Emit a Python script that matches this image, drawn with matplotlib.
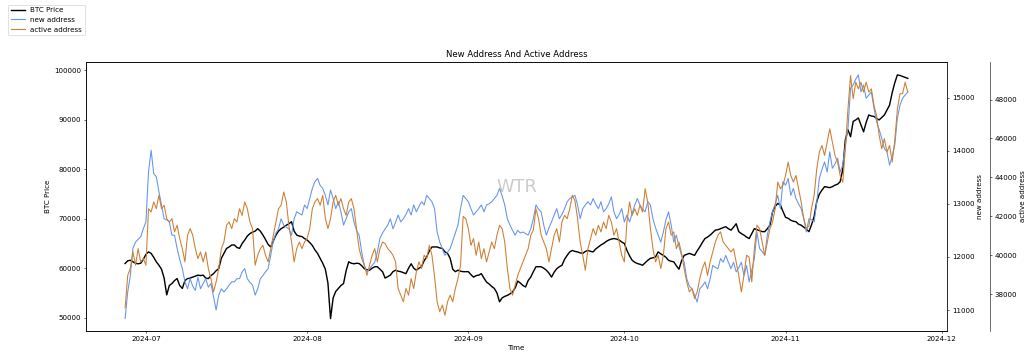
import matplotlib
matplotlib.use("Agg")
import matplotlib.pyplot as plt
import matplotlib.dates as mdates
import pandas as pd

# 12-hourly samples, 2024-06-27 00:00 .. 2024-11-24 12:00
start = "2024-06-27"

btc_price = [
    60950, 61500, 61600, 61300, 61000, 60900, 61000, 61800, 62800, 63300,
    63000, 62200, 61300, 60600, 59800, 58000, 54600, 56500, 56900, 57500,
    57900, 56500, 55900, 57500, 57900, 58000, 58200, 58400, 58600, 58500,
    58600, 58000, 57900, 58500, 58900, 59500, 59900, 62000, 63000, 64000,
    64300, 64700, 64700, 64200, 64000, 65000, 65700, 66500, 67000, 67300,
    67500, 68000, 67500, 66700, 65800, 64800, 64300, 65500, 66700, 67500,
    68000, 68300, 68700, 69000, 69400, 67500, 66700, 66500, 66400, 66000,
    65700, 65200, 64600, 63700, 63000, 62000, 61000, 59800, 57000, 49800,
    54000, 55300, 55900, 56500, 56900, 59500, 61300, 61000, 60900, 61000,
    60950, 60500, 59900, 59700, 59600, 60000, 60300, 60300, 59800, 59300,
    58000, 58300, 58600, 59300, 59600, 59400, 59300, 59100, 58900, 60000,
    60900, 60000, 59600, 60000, 60300, 61500, 62300, 63500, 64300, 64300,
    64300, 64100, 64000, 63300, 63000, 62000, 59800, 59300, 59600, 59400,
    59300, 59300, 59300, 58700, 58200, 58500, 58600, 58900, 58000, 57200,
    56800, 56300, 55900, 55000, 53200, 54000, 54300, 54500, 54800, 55200,
    56000, 57400, 57000, 56500, 56200, 57500, 58200, 59300, 60300, 60300,
    60300, 60000, 59600, 59000, 58200, 59200, 59900, 60300, 60600, 61800,
    62600, 63300, 63600, 63400, 63300, 63100, 63000, 63400, 63600, 63400,
    63300, 63900, 64300, 64700, 65000, 65400, 65700, 65900, 66000, 65900,
    65700, 65300, 65000, 63600, 62500, 61600, 61200, 60950, 60800, 60600,
    61100, 61600, 62000, 62100, 62300, 63300, 62900, 62600, 62200, 61600,
    61400, 61300, 60500, 59800, 61500, 62600, 62800, 63000, 62800, 62600,
    63500, 64300, 65200, 66000, 66300, 66700, 67200, 67700, 67800, 68000,
    68200, 68400, 68000, 67700, 68300, 69000, 67400, 67000, 66700, 66300,
    66000, 67000, 68000, 67800, 67600, 67400, 67400, 68000, 68700, 71400,
    72500, 73100, 72800, 71500, 70300, 70100, 69700, 69500, 69400, 68900,
    68700, 68300, 67900, 67400, 68800, 70500, 73500, 75000, 75800, 76500,
    76400, 76300, 76500, 76800, 77000, 77500, 80000, 86000, 88000, 86600,
    89700, 90000, 90400, 89000, 87600, 89500, 91000, 90800, 90700, 90300,
    90000, 90500, 91000, 92000, 93000, 95500, 97500, 99100, 99000, 98800,
    98600, 98400,
]

new_address = [
    10840, 11340, 11650, 12160, 12280, 12330, 12380, 12530, 12660, 13600,
    14010, 13570, 13510, 13230, 12970, 12720, 12700, 12660, 12410, 12410,
    12160, 11950, 11780, 11530, 11400, 11590, 11450, 11370, 11620, 11400,
    11500, 11590, 11430, 11500, 11250, 11000, 11280, 11400, 11340, 11400,
    11470, 11530, 11530, 11590, 11590, 11720, 11780, 11590, 11520, 11470,
    11280, 11400, 11590, 11650, 11720, 11780, 12030, 12300, 12450, 12530,
    12720, 12600, 12560, 12530, 12410, 12720, 12850, 12820, 12790, 12980,
    12910, 13100, 13290, 13420, 13480, 13350, 13290, 13160, 12980, 13260,
    13100, 12910, 13040, 12850, 12600, 12720, 12850, 12910, 12660, 12500,
    12410, 12090, 11840, 11720, 11780, 11840, 11900, 12090, 12350, 12450,
    12530, 12600, 12720, 12530, 12650, 12790, 12660, 12720, 12800, 12910,
    12790, 12980, 12850, 12950, 13040, 12980, 13160, 13100, 13040, 12910,
    12470, 12280, 12150, 12030, 12090, 12160, 12300, 12450, 12600, 12910,
    13160, 13100, 13040, 12910, 12790, 12850, 12910, 12980, 12850, 12980,
    13000, 13040, 13100, 13160, 13290, 13150, 12980, 12720, 12600, 12500,
    12410, 12500, 12450, 12470, 12440, 12410, 12530, 12720, 12980, 12900,
    12850, 12600, 12410, 12550, 12660, 12790, 12910, 12720, 12800, 12910,
    13040, 13100, 13130, 13160, 12980, 12720, 12910, 12980, 13040, 12980,
    13100, 12990, 12910, 13040, 12850, 12910, 13000, 13130, 12850, 12720,
    12800, 12910, 12660, 12790, 12660, 12820, 12980, 13100, 12980, 12900,
    12850, 13040, 12980, 12720, 12550, 12410, 12280, 12470, 12700, 12850,
    12600, 12280, 12410, 12200, 12030, 11900, 11590, 11450, 11400, 11280,
    11150, 11400, 11450, 11530, 11400, 11590, 11840, 11800, 11780, 11970,
    11900, 12030, 11900, 11780, 11900, 11720, 11800, 11900, 11650, 11840,
    11530, 11750, 11970, 12470, 12160, 12100, 12030, 12410, 12660, 12850,
    13000, 13160, 12910, 13420, 13350, 13480, 13160, 13290, 13100, 13000,
    12910, 12720, 12470, 12720, 12700, 12660, 13040, 13480, 13650, 13790,
    13600, 13980, 13670, 13750, 13860, 13600, 13730, 14100, 14420, 15180,
    15240, 15350, 15430, 15110, 15240, 14990, 15050, 15110, 14800, 14550,
    14400, 14230, 14040, 13980, 13730, 13900, 14110, 14610, 14860, 14990,
    15050, 15110,
]

active_address = [
    37300, 38970, 39320, 40170, 39490, 40340, 39660, 39830, 39490, 42390,
    42220, 42740, 42400, 43080, 42390, 42570, 41880, 41710, 41880, 41200,
    41540, 40860, 40340, 39660, 41030, 41370, 41030, 40340, 39830, 40170,
    39660, 40170, 39320, 38800, 38120, 38630, 39320, 40340, 40680, 41540,
    41710, 41370, 41880, 41710, 42390, 42050, 42740, 42390, 41710, 41370,
    39490, 40000, 40340, 40510, 40000, 39660, 40340, 41030, 41710, 42390,
    42570, 43250, 42740, 41500, 40700, 39660, 40340, 40680, 40340, 40680,
    40860, 41370, 42390, 42740, 42910, 42570, 43080, 41900, 41370, 41880,
    42740, 43080, 42570, 42910, 42390, 42050, 42740, 42910, 42390, 41370,
    40340, 39830, 39490, 38970, 39490, 40000, 40340, 39660, 40340, 40680,
    40600, 40340, 40200, 40000, 39660, 38290, 37950, 37610, 38290, 37950,
    38800, 38290, 39150, 39660, 39320, 40000, 39830, 40510, 40000, 38900,
    37610, 37100, 37440, 36920, 37610, 37950, 37610, 38290, 38800, 39490,
    42000, 41880, 41370, 40510, 40860, 40000, 40680, 39830, 40340, 39660,
    40170, 40680, 40340, 41030, 41540, 41370, 40680, 39320, 38290, 37950,
    38460, 38970, 39320, 39660, 40000, 40340, 41030, 41300, 42390, 41880,
    41030, 40680, 40340, 39660, 40340, 41030, 41370, 40680, 41710, 42050,
    41880, 42390, 43080, 42800, 41900, 40680, 40000, 39230, 40340, 40860,
    41370, 41030, 41540, 41200, 41710, 41370, 42050, 41710, 41030, 41370,
    40680, 40000, 39660, 41710, 42740, 42050, 42390, 42050, 42570, 42220,
    43420, 42740, 41400, 40340, 39660, 40000, 39320, 40000, 41370, 41710,
    41030, 41200, 40340, 40680, 40100, 39320, 38630, 38120, 38290, 37780,
    38120, 38800, 39320, 39660, 38970, 39660, 40170, 40680, 41030, 41200,
    40680, 40510, 40340, 40170, 40340, 39660, 38970, 38120, 38970, 40000,
    39900, 38630, 40340, 41540, 41370, 40680, 40000, 40680, 41370, 41710,
    42390, 43760, 43420, 43600, 44100, 44790, 44100, 43760, 44100, 43420,
    42740, 41880, 41370, 41500, 42400, 43080, 44450, 45300, 45640, 45130,
    45810, 46500, 45810, 45130, 44790, 44100, 43760, 45470, 47520, 49230,
    48040, 48890, 48550, 48890, 48380, 48890, 48380, 48550, 47700, 47180,
    46160, 45470, 45990, 45300, 45640, 44790, 45900, 47500, 48300, 48300,
    48890, 48380,
]

times = pd.date_range(start, periods=len(btc_price), freq="12h")

fig = plt.figure(figsize=(1036 / 51, 354 / 51), dpi=51)
ax = fig.add_axes([0.083, 0.065, 0.831, 0.761])
ax2 = ax.twinx()
ax3 = ax.twinx()
ax3.spines["right"].set_position(("axes", 1.05))

l1, = ax.plot(times, btc_price, color="black", lw=2, label="BTC Price")
l2, = ax2.plot(times, new_address, color="cornflowerblue", lw=1.5, label="new address")
l3, = ax3.plot(times, active_address, color="#cd7f32", lw=1.5, label="active address")

ax.set_ylim(47300, 101800)
ax2.set_ylim(10605, 15680)
ax3.set_ylim(36110, 49950)
ax.set_yticks(range(50000, 100001, 10000))
ax2.set_yticks(range(11000, 15001, 1000))
ax3.set_yticks(range(38000, 48001, 2000))

ax.xaxis.set_major_locator(mdates.MonthLocator())
ax.xaxis.set_major_formatter(mdates.DateFormatter("%Y-%m"))

ax.set_xlabel("Time")
ax.set_ylabel("BTC Price")
ax2.set_ylabel("new address")
ax3.set_ylabel("active address")
ax.set_title("New Address And Active Address")

ax.text(0.5, 0.535, "WTR", transform=ax.transAxes, fontsize=25,
        color="0.6", alpha=0.5, ha="center", va="center")

fig.legend(handles=[l1, l2, l3], loc="upper left", bbox_to_anchor=(0.004, 0.997))

fig.savefig("out.png", dpi=51)
